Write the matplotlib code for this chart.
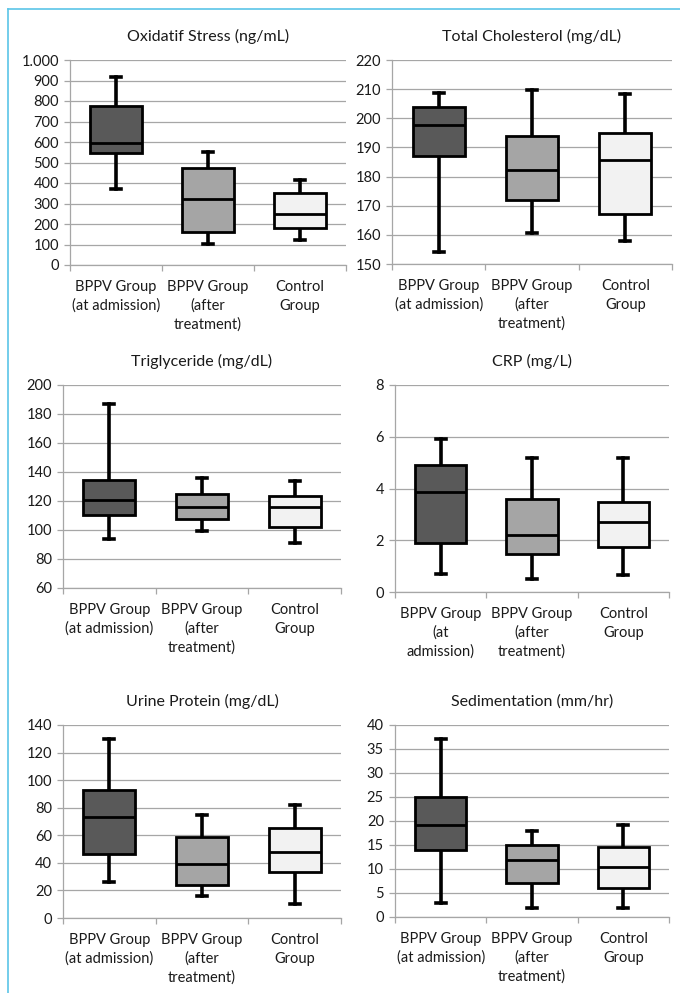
import matplotlib
matplotlib.use('Agg')
import matplotlib.pyplot as plt
from matplotlib.lines import Line2D

# five-number summaries: (low whisker, Q1, median, Q3, high whisker)
groups = ['BPPV Group\n(at admission)', 'BPPV Group\n(after\ntreatment)', 'Control\nGroup']
groups_crp = ['BPPV Group\n(at\nadmission)', 'BPPV Group\n(after\ntreatment)', 'Control\nGroup']

oxidatif = [[371, 545, 597, 776, 915],
            [102, 163, 320, 472, 552],
            [122, 182, 247, 352, 413]]
cholesterol = [[154.2, 187.2, 197.6, 203.9, 208.6],
               [160.8, 171.9, 182.4, 194.0, 209.7],
               [158.0, 167.2, 185.7, 195.1, 208.4]]
triglyceride = [[93.7, 110.5, 120.8, 134.6, 186.9],
                [99.2, 107.7, 116.0, 125.0, 136.2],
                [91.0, 101.8, 116.0, 123.6, 134.1]]
crp = [[0.68, 1.91, 3.85, 4.90, 5.91],
       [0.49, 1.47, 2.19, 3.60, 5.16],
       [0.65, 1.74, 2.70, 3.48, 5.16]]
urine = [[26.2, 46.7, 73.4, 93.2, 129.6],
         [15.7, 23.7, 39.5, 58.9, 74.4],
         [9.9, 33.7, 48.2, 65.4, 81.9]]
sedim = [[3.0, 13.9, 19.1, 25.0, 37.0],
         [1.9, 7.0, 11.9, 15.0, 18.0],
         [1.9, 6.0, 10.4, 14.6, 19.1]]

oxi_ticks = [0, 100, 200, 300, 400, 500, 600, 700, 800, 900, 1000]
oxi_labels = ['0', '100', '200', '300', '400', '500', '600', '700', '800', '900', '1.000']

fills = ['#595959', '#a5a5a5', '#f2f2f2']

plt.rcParams.update({'font.family': ['Lato', 'DejaVu Sans'],
                     'font.size': 10.5,
                     'text.color': '#1a1a1a',
                     'xtick.color': '#1a1a1a',
                     'ytick.color': '#1a1a1a'})


def draw_box(fig, rect, title, data, ticks, labels, cats):
    W, H = 680., 993.
    l, t, r, b = rect
    ax = fig.add_axes([l / W, 1 - b / H, (r - l) / W, (b - t) / H])
    stats = []
    for lo, q1, med, q3, hi in data:
        stats.append(dict(whislo=lo, q1=q1, med=med, q3=q3, whishi=hi, fliers=[]))
    bp = ax.bxp(stats, positions=[1, 2, 3], widths=0.56, capwidths=0.11,
                patch_artist=True, showfliers=False,
                boxprops=dict(lw=2.0, edgecolor='k'),
                medianprops=dict(color='k', lw=2.0),
                whiskerprops=dict(color='k', lw=2.6),
                capprops=dict(color='k', lw=2.6))
    for p, c in zip(bp['boxes'], fills):
        p.set_facecolor(c)
        p.set_zorder(4)
    for ln in bp['medians']:
        ln.set_zorder(5)
    for k in ['whiskers', 'caps']:
        for ln in bp[k]:
            ln.set_zorder(3)
    ax.set_xlim(0.5, 3.5)
    ax.set_ylim(ticks[0], ticks[-1])
    ax.set_yticks(ticks)
    ax.set_yticklabels(labels)
    ax.set_xticks([1, 2, 3])
    ax.set_xticklabels(cats, linespacing=1.4)
    ax.set_xticks([0.5, 1.5, 2.5, 3.5], minor=True)
    ax.tick_params(axis='x', which='major', length=0, pad=11)
    ax.tick_params(axis='x', which='minor', length=4, color='#a6a6a6', width=0.9)
    ax.tick_params(axis='y', length=4, color='#a6a6a6', width=0.9, pad=4)
    ax.yaxis.grid(True, color='#a6a6a6', lw=0.9)
    ax.set_axisbelow(True)
    for s in ['top', 'right']:
        ax.spines[s].set_visible(False)
    for s in ['left', 'bottom']:
        ax.spines[s].set_color('#a6a6a6')
        ax.spines[s].set_linewidth(0.9)
    ax.set_title(title, fontsize=11.5, pad=14)
    return ax


fig = plt.figure(figsize=(6.8, 9.93), dpi=100)

draw_box(fig, (70, 60, 346, 265), 'Oxidatif Stress (ng/mL)', oxidatif,
         oxi_ticks, oxi_labels, groups)
t = list(range(150, 221, 10))
draw_box(fig, (392, 60, 672, 264), 'Total Cholesterol (mg/dL)', cholesterol,
         t, [str(v) for v in t], groups)
t = list(range(60, 201, 20))
draw_box(fig, (63, 385, 341, 588), 'Triglyceride (mg/dL)', triglyceride,
         t, [str(v) for v in t], groups)
t = [0, 2, 4, 6, 8]
draw_box(fig, (395, 385, 669, 592), 'CRP (mg/L)', crp,
         t, [str(v) for v in t], groups_crp)
t = list(range(0, 141, 20))
draw_box(fig, (63, 725, 341, 918), 'Urine Protein (mg/dL)', urine,
         t, [str(v) for v in t], groups)
t = list(range(0, 41, 5))
draw_box(fig, (395, 725, 669, 917), 'Sedimentation (mm/hr)', sedim,
         t, [str(v) for v in t], groups)

# light blue frame on the left and top edges
fig.add_artist(Line2D([8 / 680., 8 / 680.], [0, 1 - 9 / 993.], transform=fig.transFigure,
                      color='#5bc5e8', lw=1.2))
fig.add_artist(Line2D([8 / 680., 1], [1 - 9 / 993., 1 - 9 / 993.], transform=fig.transFigure,
                      color='#5bc5e8', lw=1.2))

fig.savefig('out.png', dpi=100)
